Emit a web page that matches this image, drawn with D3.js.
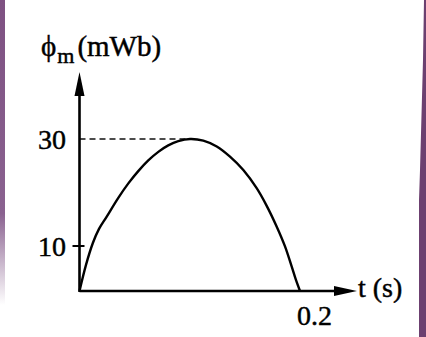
<!DOCTYPE html>
<html><head><meta charset="utf-8">
<script src="https://cdn.jsdelivr.net/npm/d3@7"></script>
<style>html,body{margin:0;padding:0;background:#fff;}svg{display:block;}</style>
</head><body>
<script>
// data
const tValues   = [0, 0.0059, 0.0122, 0.0177, 0.0247, 0.0352, 0.0443, 0.0533, 0.0624, 0.0715, 0.0805, 0.0896, 0.1002, 0.1123, 0.1245, 0.1365, 0.1486, 0.1607, 0.1698, 0.1789, 0.1864, 0.1925, 0.1964, 0.2];
const phiValues = [0, 5.8, 10.6, 13.2, 15.5, 19.0, 21.7, 24.0, 26.0, 27.6, 28.8, 29.6, 30, 29.7, 28.6, 26.7, 24.2, 20.8, 17.5, 13.6, 9.9, 5.4, 2.4, 0];
const yTickValues = [10, 30];
const yTickLabels = ["10", "30"];
const xTickValues = [0.2];
const xTickLabels = ["0.2"];
const peakPhi = 30;
const peakT = 0.1;
const yAxisTitle = {sym: "ϕ", sub: "m", unit: "(mWb)"};
const xAxisTitle = "t (s)";

const W = 426, H = 337;
const svg = d3.select("body").append("svg").attr("width", W).attr("height", H);

// frame decoration (purple edges)
const defs = svg.append("defs");
const lg = defs.append("linearGradient").attr("id","lg").attr("x1",0).attr("y1",0).attr("x2",0).attr("y2",1);
lg.append("stop").attr("offset","0%").attr("stop-color","#7e5182");
lg.append("stop").attr("offset","70%").attr("stop-color","#8a6290");
lg.append("stop").attr("offset","100%").attr("stop-color","#ffffff");
svg.append("rect").attr("x",0).attr("y",0).attr("width",5).attr("height",305).attr("fill","url(#lg)");
svg.append("path").attr("d","M424,0 L426,0 L426,337 L419,337 L419,200 L420,170 L423,60 Z").attr("fill","#6c4070");

const font = "'Liberation Serif','Times New Roman','DejaVu Serif',serif";

const x = d3.scaleLinear().domain([0, 0.2]).range([79.5, 300]);
const y = d3.scaleLinear().domain([0, 10, 30]).range([291, 246, 139]);

const g = svg.append("g");

// dashed line at peak
g.append("line")
  .attr("x1", x(0)).attr("x2", x(peakT))
  .attr("y1", y(peakPhi)).attr("y2", y(peakPhi))
  .attr("stroke", "#111").attr("stroke-width", 1.7)
  .attr("stroke-dasharray", "6,4");

// axes lines
g.append("line").attr("x1", x(0)).attr("x2", 340).attr("y1", y(0)).attr("y2", y(0))
  .attr("stroke", "#000").attr("stroke-width", 2.6);
g.append("line").attr("x1", x(0)).attr("x2", x(0)).attr("y1", y(0) + 1).attr("y2", 92)
  .attr("stroke", "#000").attr("stroke-width", 2.6);
// arrowheads
g.append("path").attr("d", `M${x(0)},72 L${x(0)-5},96 L${x(0)+5},96 Z`).attr("fill", "#000");
g.append("path").attr("d", `M357,${y(0)} L334,${y(0)-5} L334,${y(0)+5} Z`).attr("fill", "#000");

// y ticks (only 10 has a cross mark)
g.selectAll(".yt").data(yTickValues.filter(v => v === 10)).enter().append("line")
  .attr("x1", x(0) - 7).attr("x2", x(0) + 5)
  .attr("y1", d => y(d)).attr("y2", d => y(d))
  .attr("stroke", "#000").attr("stroke-width", 2);

const textStyle = sel => sel.attr("font-family", font).attr("fill", "#000")
  .attr("stroke", "#000").attr("stroke-width", 0.45);

g.selectAll(".ytl").data(yTickValues).enter().append("text")
  .attr("x", 66).attr("y", d => y(d) + 10)
  .attr("text-anchor", "end").attr("font-size", 28)
  .call(textStyle)
  .text((d, i) => yTickLabels[i]);

g.selectAll(".xtl").data(xTickValues).enter().append("text")
  .attr("x", d => x(d) - 3).attr("y", 325).attr("font-size", 28)
  .call(textStyle)
  .text((d, i) => xTickLabels[i]);

// curve
const pts = tValues.map((t, i) => [t, phiValues[i]]);
g.append("path").datum(pts)
  .attr("d", d3.line().x(d => x(d[0])).y(d => y(d[1])).curve(d3.curveCatmullRom.alpha(0.5)))
  .attr("fill", "none").attr("stroke", "#000").attr("stroke-width", 2.4);

// axis titles
const yt = g.append("text").attr("x", 41).attr("y", 56).attr("font-size", 29).call(textStyle);
yt.append("tspan").text(yAxisTitle.sym);
yt.append("tspan").attr("font-size", 22).attr("dy", 7).attr("dx", 1).text(yAxisTitle.sub);
yt.append("tspan").attr("dy", -7).attr("dx", 3).text(yAxisTitle.unit);

g.append("text").attr("x", 358).attr("y", 297).attr("font-size", 28)
  .call(textStyle)
  .text(xAxisTitle);
</script>
</body></html>
